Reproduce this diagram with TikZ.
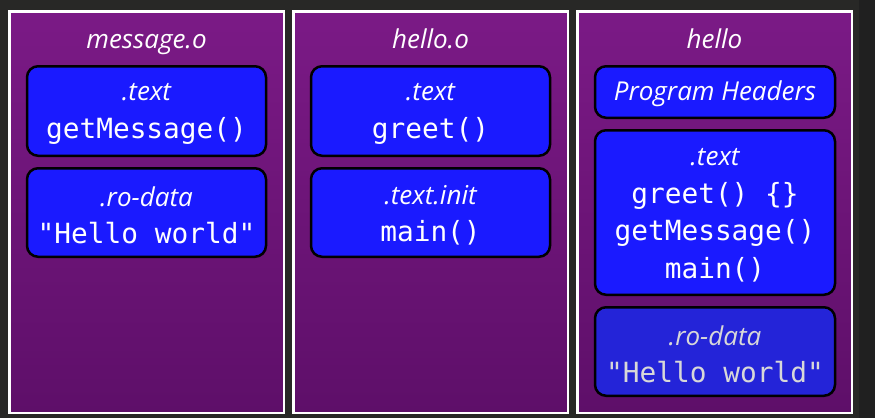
\documentclass[tikz,border=0pt]{standalone}
\usepackage{fontspec}
\newfontfamily\osans{Open Sans}
\newfontfamily\dmono{DejaVu Sans Mono}
\newcommand\lbl{\osans\itshape\fontsize{26}{37.5}\selectfont}
\newcommand\code{\dmono\fontsize{27.8}{37.5}\selectfont}
\definecolor{bgdark}{HTML}{282826}
\definecolor{bgdarker}{HTML}{202020}
\definecolor{ptop}{HTML}{7B1A86}
\definecolor{pbot}{HTML}{5E0F69}
\definecolor{boxblue}{HTML}{1A1AFF}
\definecolor{boxdim}{HTML}{2424D8}
\definecolor{txtdim}{HTML}{D8D8D8}
\tikzset{
  panel/.style={draw=white, line width=2.5pt, top color=ptop, bottom color=pbot,
    minimum width=274.5pt, minimum height=401.5pt, inner sep=0pt},
  ptitle/.style={text=white, font=\lbl, inner sep=0pt, anchor=base},
  sect/.style={draw=black, line width=2.5pt, fill=boxblue, rounded corners=11pt,
    minimum width=239pt, inner sep=0pt},
  sectdim/.style={sect, fill=boxdim},
  stxt/.style={inner sep=0pt, align=center, text=white,
    font=\fontsize{26}{37.5}\selectfont},
  stxtdim/.style={stxt, text=txtdim}
}
\begin{document}
\begin{tikzpicture}[x=1pt,y=-1pt]
\useasboundingbox (0,0) rectangle (875,418);
\fill[bgdark] (0,0) rectangle (875,418);
\fill[bgdarker] (859,0) rectangle (875,418);

\node[panel] (p1) at (146.5,212) {};
\node[panel] (p2) at (430.5,212) {};
\node[panel] (p3) at (714.5,212) {};

\node[ptitle] (t1) at (146.5,48) {message.o};
\node[ptitle] (t2) at (430.5,48) {hello.o};
\node[ptitle] (t3) at (714.5,48) {hello};

\node[sect, minimum height=89.5pt] (a1) at (146.5,111) {};
\node[stxt] (a1t) at ([yshift=-3pt]a1.center) {{\lbl .text}\\{\code getMessage()}};
\node[sect, minimum height=88.5pt] (a2) at (146.5,212.5) {};
\node[stxt] (a2t) at ([yshift=-3pt]a2.center) {{\lbl .ro-data}\\{\code "Hello world"}};

\node[sect, minimum height=89.5pt] (b1) at (430.5,111) {};
\node[stxt] (b1t) at ([yshift=-3pt]b1.center) {{\lbl .text}\\{\code greet()}};
\node[sect, minimum height=88.5pt] (b2) at (430.5,212.5) {};
\node[stxt] (b2t) at ([yshift=-3pt]b2.center) {{\lbl .text.init}\\{\code main()}};

\node[sect, minimum width=240pt, minimum height=51.5pt] (c1) at (715,92) {};
\node[stxt] (c1t) at ([yshift=-2pt]c1.center) {{\lbl Program Headers}};
\node[sect, minimum width=240pt, minimum height=164.5pt] (c2) at (715,212.5) {};
\node[stxt] (c2t) at ([yshift=-3pt]c2.center) {{\lbl .text}\\{\code greet() \{\}}\\{\code getMessage()}\\{\code main()}};
\node[sectdim, minimum width=240pt, minimum height=88.5pt] (c3) at (715,351.5) {};
\node[stxtdim] (c3t) at ([yshift=-3pt]c3.center) {{\lbl .ro-data}\\{\code "Hello world"}};
\end{tikzpicture}
\end{document}
